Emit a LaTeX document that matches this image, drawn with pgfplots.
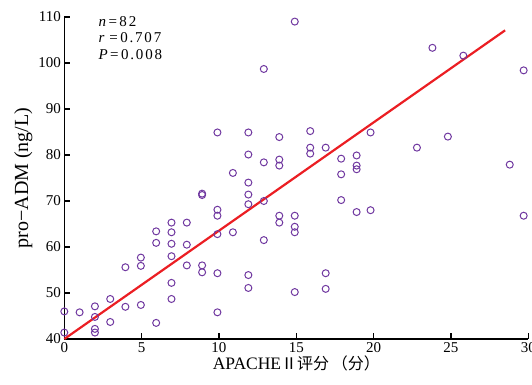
\documentclass[border=0pt]{standalone}
\usepackage{fontspec}
\setmainfont{Liberation Serif}
\newfontfamily\cjk{Noto Sans CJK SC}
\newfontfamily\spaced[LetterSpace=12]{Liberation Serif}
\usepackage{pgfplots}
\pgfplotsset{compat=1.18}
\definecolor{ptpurple}{RGB}{112,56,160}
\definecolor{fitred}{RGB}{235,30,35}
\begin{document}
\begin{tikzpicture}
\begin{axis}[
  scale only axis, width=464pt, height=322pt,
  xmin=0, xmax=30, ymin=40, ymax=110,
  axis lines*=left,
  axis line style={line width=1.3pt},
  tick style={line width=1.3pt, black},
  major tick length=6pt,
  tick align=inside,
  xtick={0,5,...,30}, ytick={40,50,...,110},
  tick label style={font=\fontsize{15}{17}\selectfont},
  /pgf/number format/assume math mode=true,
  xlabel={APACHE{\cjk\fontsize{16}{18}\selectfont Ⅱ评分\,（分）}},
  ylabel={pro−ADM (ng/L)},
  xlabel style={font=\fontsize{17.5}{18}\selectfont, yshift=4pt},
  ylabel style={font=\fontsize{20}{22}\selectfont, yshift=-1pt},
  clip=false,
]
\addplot[only marks, mark=o, mark size=3.5pt, ptpurple, mark options={line width=1pt}] table {
x y
0 46.0
0 41.4
0.99 45.8
1.98 47.1
1.98 44.8
1.98 42.2
1.98 41.4
2.97 48.7
2.97 43.7
3.95 55.6
3.95 47.0
4.95 57.7
4.95 55.9
4.95 47.4
5.94 63.4
5.94 60.9
5.94 43.5
6.93 65.3
6.93 63.2
6.93 60.7
6.93 58.0
6.93 52.2
6.93 48.7
7.92 65.3
7.92 60.5
7.92 56.0
8.91 71.3
8.91 71.6
8.91 56.0
8.91 54.5
9.9 84.9
9.9 68.1
9.9 66.8
9.9 62.8
9.9 54.3
9.9 45.8
10.9 76.1
10.9 63.2
11.9 84.9
11.9 80.1
11.9 74.0
11.9 71.4
11.9 69.3
11.9 53.9
11.9 51.1
12.9 98.7
12.9 78.4
12.9 70.0
12.9 61.5
13.9 83.9
13.9 79.0
13.9 77.7
13.9 66.8
13.9 65.3
14.9 109.0
14.9 66.8
14.9 64.4
14.9 63.2
14.9 50.2
15.9 85.2
15.9 81.6
15.9 80.3
16.9 81.6
16.9 54.3
16.9 50.9
17.9 79.2
17.9 75.8
17.9 70.2
18.9 79.9
18.9 77.7
18.9 76.9
18.9 67.6
19.8 84.9
19.8 68.0
22.8 81.6
23.8 103.3
24.8 84.0
25.8 101.6
28.8 77.9
29.7 98.4
29.7 66.8
};
\addplot[fitred, line width=2.2pt] coordinates {(0,40) (28.5,107.1)};
\node[anchor=north west, inner sep=0pt, align=left, font=\fontsize{15}{16.5}\selectfont]
  at ([xshift=34pt,yshift=1pt]rel axis cs:0,1)
  {\textit{n}\,=\,{\spaced 82}\\ \textit{r}\,\,=\,{\spaced 0.707}\\ \textit{P}\,=\,{\spaced 0.008}};
\end{axis}
\pgfresetboundingbox
\path[use as bounding box] ([shift={(-64.3pt,-45.7pt)}]current axis.south west) rectangle ([shift={(3.7pt,17pt)}]current axis.north east);
\end{tikzpicture}
\end{document}
